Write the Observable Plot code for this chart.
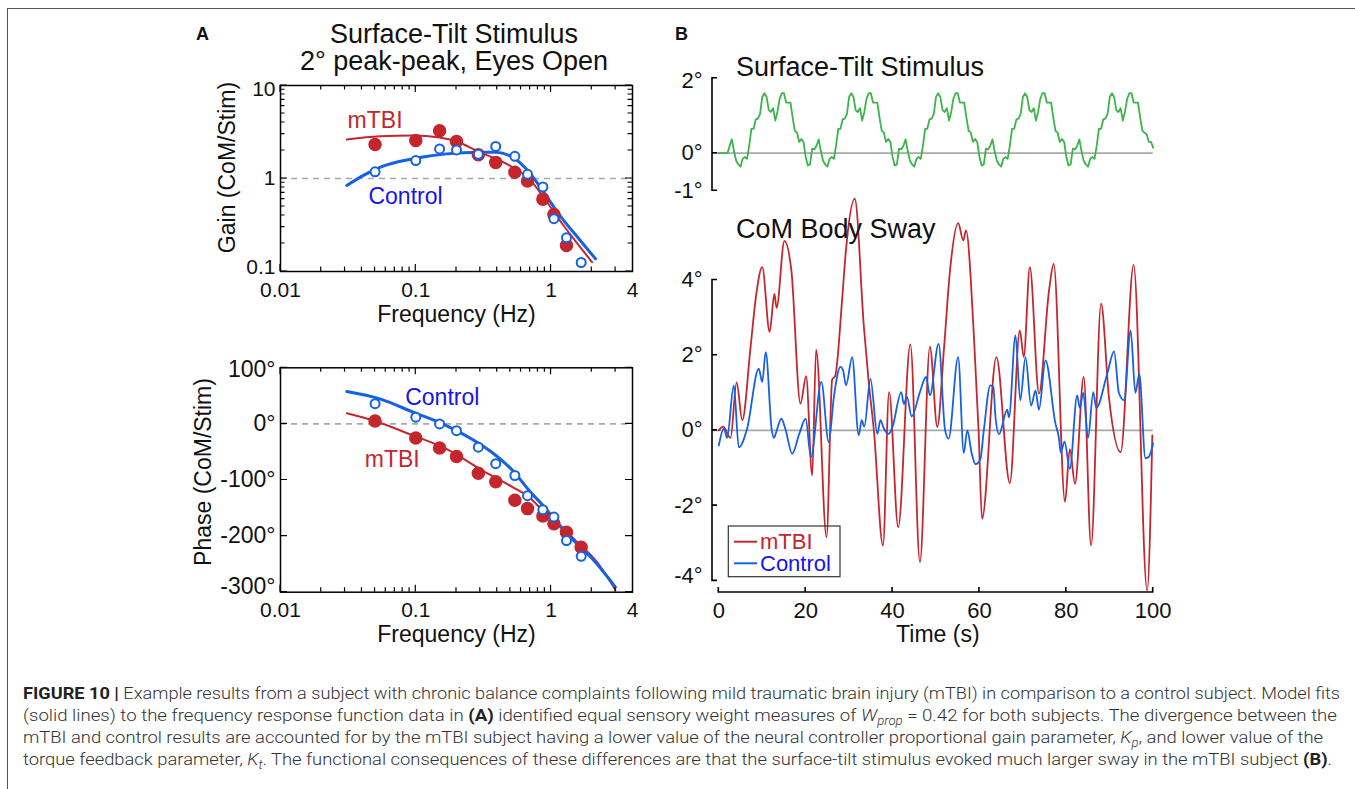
<!DOCTYPE html>
<html><head><meta charset="utf-8">
<script src="https://cdn.jsdelivr.net/npm/d3@7"></script>
<script src="https://cdn.jsdelivr.net/npm/@observablehq/plot@0.6"></script>
<style>
html,body{margin:0;padding:0;background:#fff;}
#root{position:relative;width:1355px;height:789px;overflow:hidden;background:#fff;}
#frameBorder{position:absolute;left:7px;top:8px;width:1400px;height:800px;border-top:1.5px solid #555;border-left:1.5px solid #555;}
</style></head>
<body><div id="root"><div id="frameBorder"></div></div>
<script>
// ---------------- DATA ----------------
// Panel A: frequency response function points
const freqs = [0.05, 0.1, 0.15, 0.2, 0.29, 0.39, 0.54, 0.67, 0.87, 1.05, 1.3, 1.67];
const gainMTBI = [2.32, 2.56, 3.26, 2.5, 1.8, 1.49, 1.17, 0.94, 0.6, 0.41, 0.19, null];
const gainControl = [1.18, 1.56, 2.08, 2.03, 1.82, 2.21, 1.73, 1.11, 0.81, 0.37, 0.23, 0.125];
const phaseMTBI = [5, -25, -43, -58, -88, -103, -136, -151, -164, -178, -193, -220];
const phaseControl = [36, 12, 0, -12, -41.5, -71, -92, -128, -153, -166, -208, -236];

// Panel A: model fit curves
const gainFitMTBIFreq = [0.0309, 0.0543, 0.0955, 0.150, 0.201, 0.296, 0.391, 0.520, 0.689, 0.914, 1.21, 1.61, 2.01];
const gainFitMTBIVal  = [2.62, 2.85, 2.90, 2.76, 2.50, 1.92, 1.63, 1.32, 0.99, 0.58, 0.326, 0.19, 0.126];
const gainFitCtrlFreq = [0.0309, 0.041, 0.0543, 0.0955, 0.168, 0.296, 0.391, 0.520, 0.689, 0.914, 1.21, 1.61, 2.13];
const gainFitCtrlVal  = [0.84, 1.08, 1.32, 1.63, 1.84, 1.92, 1.92, 1.69, 1.17, 0.66, 0.37, 0.224, 0.137];
const phaseFitMTBIFreq = [0.0309, 0.0485, 0.0955, 0.168, 0.296, 0.520, 0.689, 0.914, 1.21, 1.61, 2.13, 2.99];
const phaseFitMTBIVal  = [19, 6, -20.7, -44.4, -80, -112.8, -130.6, -160, -184, -214, -243, -296];
const phaseFitCtrlFreq = [0.0309, 0.0543, 0.0955, 0.168, 0.296, 0.391, 0.520, 0.689, 0.914, 1.21, 1.61, 2.13, 2.99];
const phaseFitCtrlVal  = [57.8, 44.7, 20.9, -2.9, -35.5, -56.3, -83, -118.7, -151, -187, -217, -246.5, -291];

// Axis ticks / labels
const freqTickLabels = [0.01, 0.1, 1, 4];
const freqMajor = [0.01, 0.1, 1];
const freqMinor = [0.02,0.03,0.04,0.05,0.06,0.07,0.08,0.09,0.2,0.3,0.4,0.5,0.6,0.7,0.8,0.9,2,3];
const gainTickLabels = [0.1, 1, 10];
const gainMinor = [0.2,0.3,0.4,0.5,0.6,0.7,0.8,0.9,2,3,4,5,6,7,8,9];
const phaseTicks = [100, 0, -100, -200, -300];
const stimTicks = [2, 0, -1];
const swayTicks = [4, 2, 0, -2, -4];
const timeTicks = [0, 20, 40, 60, 80, 100];

// Panel A in-plot labels
const gainLabels = [{f: 0.05, v: 4.2, t: "mTBI", g: "mTBI"}, {f: 0.084, v: 0.64, t: "Control", g: "Control"}];
const phaseLabels = [{f: 0.157, v: 47, t: "Control", g: "Control"}, {f: 0.067, v: -63.5, t: "mTBI", g: "mTBI"}];

// Panel B: surface-tilt stimulus (deg), sampled every 0.5 s from 0 to 100 s
const stimStep = 0.5;
const stimValues = [
0,0,0,0,0,
0.2,0.37,0.05,-0.2,-0.3,-0.36,-0.15,-0.1,-0.15,0.2,0.65,0.65,0.9,0.92,1.05,1.5,1.6,1.5,1.15,1.1,1.2,0.87,1.1,1.45,1.6,1.6,1.35,1.35,1.35,0.95,0.6,0.55,0.3,0.38,0.3,-0.1,-0.33,-0.3,0.12,0.1,
0.2,0.37,0.05,-0.2,-0.3,-0.36,-0.15,-0.1,-0.15,0.2,0.65,0.65,0.9,0.92,1.05,1.5,1.6,1.5,1.15,1.1,1.2,0.87,1.1,1.45,1.6,1.6,1.35,1.35,1.35,0.95,0.6,0.55,0.3,0.38,0.3,-0.1,-0.33,-0.3,0.12,0.1,
0.2,0.37,0.05,-0.2,-0.3,-0.36,-0.15,-0.1,-0.15,0.2,0.65,0.65,0.9,0.92,1.05,1.5,1.6,1.5,1.15,1.1,1.2,0.87,1.1,1.45,1.6,1.6,1.35,1.35,1.35,0.95,0.6,0.55,0.3,0.38,0.3,-0.1,-0.33,-0.3,0.12,0.1,
0.2,0.37,0.05,-0.2,-0.3,-0.36,-0.15,-0.1,-0.15,0.2,0.65,0.65,0.9,0.92,1.05,1.5,1.6,1.5,1.15,1.1,1.2,0.87,1.1,1.45,1.6,1.6,1.35,1.35,1.35,0.95,0.6,0.55,0.3,0.38,0.3,-0.1,-0.33,-0.3,0.12,0.1,
0.2,0.37,0.05,-0.2,-0.3,-0.36,-0.15,-0.1,-0.15,0.2,0.65,0.65,0.9,0.92,1.05,1.5,1.6,1.5,1.15,1.1,1.2,0.87,1.1,1.45,1.6,1.6,1.35,1.35,1.35,0.95,0.6,0.55,0.5,0.3,0.3,0.15
];

// Panel B: CoM body sway (deg) — turning points
const mtbiTime = [0,1.0,2.7,4.1,5.4,7.3,8.6,10.0,11.7,12.8,13.3,15.1,16.7,18.8,20.1,21.5,22.4,24.8,26.1,26.8,28.4,29.2,31.3,33.4,34.5,35.7,37.8,39.2,41.3,44.1,46.3,48.6,50.3,51.8,53.3,55.1,56.3,56.9,58.7,59.8,60.6,63.9,67.0,69.3,70.2,71.6,73.7,76.0,77.1,79.7,80.8,82.0,84.0,85.7,88.0,89.8,92.5,95.5,98.6,99.8];
const mtbiSway = [0,0.1,-0.2,1.28,0.27,2.2,3.6,4.34,2.62,3.63,3.26,5.04,4.26,0.71,1.44,-1.2,2.15,-2.84,1.35,1.45,3.5,4.7,6.16,2.75,1.3,0,-3.06,1.02,-2.57,2.29,-3.5,2.23,0.09,2.12,4.34,5.51,5.05,5.32,2.57,0,-2.35,1.95,-1.4,2.66,1.95,4.34,0.98,3.7,4.43,-1.9,-0.5,-1.42,1.42,-3.06,3.37,0.89,-0.58,4.4,-4.26,-0.13];
const controlTime = [0,1.2,1.9,3.45,4.6,6.5,9.2,10.0,10.8,12.2,12.7,13.2,14.4,15.3,16.9,18.5,20.0,21.2,23.6,25.3,26.5,28.0,28.6,29.3,30.7,32.2,32.9,33.5,34.9,36.5,37.2,38.0,39.1,40.0,42.0,42.6,43.3,44.4,46.3,47.7,48.6,50.6,52.1,52.9,55.1,56.4,57.2,58.2,59.1,60.2,61.0,62.5,63.2,63.7,64.5,66.4,66.8,68.3,69.4,70.6,71.9,72.9,73.7,75.2,77.5,78.3,78.7,79.6,80.8,82.5,83.1,83.9,85.0,86.2,86.9,89.4,91.0,92.1,93.3,94.8,95.9,96.8,98.2,99.0,100];
const controlSway = [-0.4,0.06,-0.2,1.2,-0.45,0.04,1.64,1.29,2.08,0,-0.2,-0.05,0.31,0.05,-0.62,-0.1,0.31,-0.71,1.29,-0.31,0.9,1.69,1.6,1.2,1.95,-0.13,0.27,0.1,1.37,-0.09,0.27,0.05,-0.09,0.1,1.02,0.7,0.9,0.37,1.02,1.42,0.93,2.3,0,-0.22,1.95,-0.6,0,-0.6,-0.9,-0.77,0,1.2,1.15,0.35,-0.1,0.55,0.35,2.53,0.8,1.95,0.66,1.06,0.55,1.86,0.18,-0.2,-0.58,-0.3,-1.02,0.93,0.6,1.0,-0.2,1.02,0.6,1.5,2.1,1.0,0.8,2.66,1.0,1.5,-0.74,-0.7,-0.35];

// ---------------- STYLE ----------------
const RED = "#c4262e", BLUE = "#1561e6", BLUETEXT = "#1414f0", GREEN = "#3cb44a";
const FONT = "'Liberation Sans', Arial, Helvetica, sans-serif";
const root = document.getElementById("root");
function place(el, left, top) { el.style.position = "absolute"; el.style.left = left + "px"; el.style.top = top + "px"; root.appendChild(el); }
const baseStyle = (fs) => ({fontFamily: FONT, fontSize: fs + "px", background: "transparent", overflow: "visible", color: "#111"});

// inward box ticks on all four sides (MATLAB style)
function boxTicks(xTicks, yTicks) {
  return (index, scales, values, dims) => {
    const L = dims.marginLeft, R = dims.width - dims.marginRight, T = dims.marginTop, B = dims.height - dims.marginBottom;
    let d = "";
    for (const [v, len] of xTicks) { const p = scales.x(v); d += `M${p},${B}v${-len}M${p},${T}v${len}`; }
    for (const [v, len] of yTicks) { const p = scales.y(v); d += `M${L},${p}h${len}M${R},${p}h${-len}`; }
    const path = document.createElementNS("http://www.w3.org/2000/svg", "path");
    path.setAttribute("d", d); path.setAttribute("stroke", "#000"); path.setAttribute("stroke-width", "1.2"); path.setAttribute("fill", "none");
    return path;
  };
}
// offset axes (box off) for panel B
function offsetAxes(yT, xT, len) {
  return (index, scales, values, dims) => {
    const L = dims.marginLeft, B = dims.height - dims.marginBottom;
    let d = `M${L + len},${scales.y(yT[0])}H${L}V${scales.y(yT[yT.length - 1])}H${L + len}`;
    for (const v of yT) d += `M${L},${scales.y(v)}h${len}`;
    if (xT) {
      d += `M${scales.x(xT[0])},${B - len}V${B}H${scales.x(xT[xT.length - 1])}V${B - len}`;
      for (const v of xT) d += `M${scales.x(v)},${B}v${-len}`;
    }
    const path = document.createElementNS("http://www.w3.org/2000/svg", "path");
    path.setAttribute("d", d); path.setAttribute("stroke", "#000"); path.setAttribute("stroke-width", "1.6"); path.setAttribute("fill", "none");
    return path;
  };
}

const rows = (xs, ys) => xs.map((x, i) => ({x, y: ys[i]})).filter(d => d.y != null);
const fmtNum = d => String(d);
const fmtDeg = d => `${d}°`;
const freqTickSpec = [...freqMajor.map(v => [v, 7]), ...freqMinor.map(v => [v, 4.5])];
const xLabels = (ticks, fmt, pad, fs) => Plot.text(ticks, {x: d => d, text: fmt, frameAnchor: "bottom", lineAnchor: "top", dy: pad, fontSize: fs, fill: "#111"});
// y tick labels; end labels nudged inward like the original axes
const yLabels = (ticks, fmt, pad, fs, nudge = {}) => ticks.map(v => Plot.text([v], {y: d => d, text: fmt, frameAnchor: "left", textAnchor: "end", lineAnchor: "middle", dx: -pad, dy: nudge[v] || 0, fontSize: fs, fill: "#111"}));
const xTitle = (s, dy, dx = 0) => Plot.text([s], {text: d => d, frameAnchor: "bottom", textAnchor: "middle", lineAnchor: "middle", dy, dx, fontSize: 23, fill: "#111"});
const yTitle = (s, dx, dy) => Plot.text([s], {text: d => d, frameAnchor: "left", textAnchor: "middle", lineAnchor: "middle", rotate: -90, dx, dy, fontSize: 23, fill: "#111"});

// ---------------- PANEL A: GAIN ----------------
const gainSvg = Plot.plot({
  width: 470, height: 260, marginLeft: 100, marginRight: 18, marginTop: 10, marginBottom: 64,
  style: baseStyle(21),
  x: {type: "log", domain: [0.01, 4], axis: null},
  y: {type: "log", domain: [0.1, 10], axis: null},
  marks: [
    Plot.ruleY([1], {stroke: "#a9a9a9", strokeWidth: 1.6, strokeDasharray: "6,5"}),
    Plot.line(rows(gainFitMTBIFreq, gainFitMTBIVal), {x: "x", y: "y", stroke: RED, strokeWidth: 2, curve: "monotone-x"}),
    Plot.line(rows(gainFitCtrlFreq, gainFitCtrlVal), {x: "x", y: "y", stroke: BLUE, strokeWidth: 3, curve: "monotone-x"}),
    Plot.dot(rows(freqs, gainMTBI), {x: "x", y: "y", r: 6, fill: RED, stroke: RED}),
    Plot.dot(rows(freqs, gainControl), {x: "x", y: "y", r: 4.5, fill: "white", stroke: BLUE, strokeWidth: 2}),
    Plot.frame({stroke: "#000", strokeWidth: 1.5}),
    boxTicks(freqTickSpec, [...gainTickLabels.map(v => [v, 7]), ...gainMinor.map(v => [v, 4.5])]),
    xLabels(freqTickLabels, fmtNum, 11, 21),
    ...yLabels(gainTickLabels, fmtNum, 5, 21, {10: 4, 0.1: -4}),
    xTitle("Frequency (Hz)", 43.3),
    yTitle("Gain (CoM/Stim)", -53, -11),
    Plot.text(gainLabels, {x: "f", y: "v", text: "t", fill: d => d.g === "mTBI" ? RED : BLUETEXT, fontSize: 23})
  ]
});
place(gainSvg, 180, 75);

// ---------------- PANEL A: PHASE ----------------
const phaseSvg = Plot.plot({
  width: 470, height: 290, marginLeft: 100, marginRight: 18, marginTop: 10.3, marginBottom: 55.3,
  style: baseStyle(22),
  x: {type: "log", domain: [0.01, 4], axis: null},
  y: {domain: [-300, 100], axis: null},
  marks: [
    Plot.ruleY([0], {stroke: "#a9a9a9", strokeWidth: 1.6, strokeDasharray: "6,5"}),
    Plot.line(rows(phaseFitMTBIFreq, phaseFitMTBIVal), {x: "x", y: "y", stroke: RED, strokeWidth: 2, curve: "monotone-x"}),
    Plot.line(rows(phaseFitCtrlFreq, phaseFitCtrlVal), {x: "x", y: "y", stroke: BLUE, strokeWidth: 3, curve: "monotone-x"}),
    Plot.dot(rows(freqs, phaseMTBI), {x: "x", y: "y", r: 6, fill: RED, stroke: RED}),
    Plot.dot(rows(freqs, phaseControl), {x: "x", y: "y", r: 4.5, fill: "white", stroke: BLUE, strokeWidth: 2}),
    Plot.frame({stroke: "#000", strokeWidth: 1.5}),
    boxTicks(freqTickSpec, phaseTicks.map(v => [v, 7])),
    xLabels(freqTickLabels, fmtNum, 9.5, 21),
    ...yLabels(phaseTicks, fmtDeg, 5, 23, {100: 2, "-300": -6}),
    xTitle("Frequency (Hz)", 42.6),
    yTitle("Phase (CoM/Stim)", -77, -8),
    Plot.text(phaseLabels, {x: "f", y: "v", text: "t", fill: d => d.g === "mTBI" ? RED : BLUETEXT, fontSize: 23})
  ]
});
place(phaseSvg, 180, 357);

// ---------------- PANEL B: BODY SWAY ----------------
const swaySvg = Plot.plot({
  width: 520, height: 470, marginLeft: 52, marginRight: 27.3, marginTop: 10, marginBottom: 58,
  style: baseStyle(22),
  x: {domain: [0, 100], insetLeft: 6.3, axis: null},
  y: {domain: [-4.31, 6.38], axis: null},
  marks: [
    Plot.ruleY([0], {stroke: "#a9a9a9", strokeWidth: 1.8}),
    Plot.line(rows(mtbiTime, mtbiSway), {x: "x", y: "y", stroke: RED, strokeWidth: 1.8, curve: "monotone-x"}),
    Plot.line(rows(controlTime, controlSway), {x: "x", y: "y", stroke: BLUE, strokeWidth: 1.8, curve: "monotone-x"}),
    offsetAxes(swayTicks, timeTicks, 5),
    ...yLabels(swayTicks, fmtDeg, 10, 22, {"-4": -5}),
    xLabels(timeTicks, fmtNum, 9.7, 22),
    xTitle("Time (s)", 42.3, 5)
  ]
});
place(swaySvg, 660, 180);

// ---------------- PANEL B: STIMULUS ----------------
const stimRows = stimValues.map((v, i) => ({x: i * stimStep, y: v}));
const stimSvg = Plot.plot({
  width: 520, height: 180, marginLeft: 52, marginRight: 27.3, marginTop: 57.7, marginBottom: 9.8,
  style: baseStyle(22),
  x: {domain: [0, 100], insetLeft: 6.3, axis: null},
  y: {domain: [-1, 2], axis: null},
  marks: [
    Plot.ruleY([0], {stroke: "#a9a9a9", strokeWidth: 1.8}),
    Plot.line(stimRows, {x: "x", y: "y", stroke: GREEN, strokeWidth: 1.8}),
    offsetAxes(stimTicks, null, 5),
    ...yLabels(stimTicks, fmtDeg, 10, 22, {2: 3})
  ]
});
place(stimSvg, 660, 20);

// ---------------- TITLES, LEGEND, CAPTION (overlay) ----------------
const NS = "http://www.w3.org/2000/svg";
const ov = document.createElementNS(NS, "svg");
ov.setAttribute("width", 1355); ov.setAttribute("height", 789);
ov.style.pointerEvents = "none";
ov.setAttribute("font-family", FONT);
function txt(str, x, y, attrs = {}) {
  const t = document.createElementNS(NS, "text");
  t.setAttribute("x", x); t.setAttribute("y", y);
  for (const k in attrs) t.setAttribute(k, attrs[k]);
  t.textContent = str; ov.appendChild(t); return t;
}
txt("A", 196, 40, {"font-weight": "bold", "font-size": 18, fill: "#111"});
txt("B", 675, 40, {"font-weight": "bold", "font-size": 18, fill: "#111"});
txt("Surface-Tilt Stimulus", 454, 43.3, {"font-size": 27, "text-anchor": "middle", fill: "#111"});
txt("2° peak-peak, Eyes Open", 454, 70, {"font-size": 27, "text-anchor": "middle", fill: "#111"});
txt("Surface-Tilt Stimulus", 736, 76, {"font-size": 27, fill: "#111"});
txt("CoM Body Sway", 736, 237.7, {"font-size": 27, fill: "#111"});

// legend
const lg = document.createElementNS(NS, "rect");
lg.setAttribute("x", 728.3); lg.setAttribute("y", 526); lg.setAttribute("width", 111.7); lg.setAttribute("height", 50.7);
lg.setAttribute("fill", "none"); lg.setAttribute("stroke", "#333"); lg.setAttribute("stroke-width", 1.2);
ov.appendChild(lg);
const legendItems = [{label: "mTBI", color: RED, tc: RED}, {label: "Control", color: BLUE, tc: BLUETEXT}];
legendItems.forEach((it, i) => {
  const y = 541.7 + i * 21.6;
  const ln = document.createElementNS(NS, "line");
  ln.setAttribute("x1", 734); ln.setAttribute("x2", 757); ln.setAttribute("y1", y); ln.setAttribute("y2", y);
  ln.setAttribute("stroke", it.color); ln.setAttribute("stroke-width", 2); ov.appendChild(ln);
  txt(it.label, 760, y + 7.5, {"font-size": 22, fill: it.tc});
});

// caption
const capFont = "'Roboto', 'Liberation Sans', sans-serif";
const captionLines = [
  {end: 1340, parts: [["FIGURE 10 |", "b"], [" Example results from a subject with chronic balance complaints following mild traumatic brain injury (mTBI) in comparison to a control subject. Model fits", ""]]},
  {end: 1337, parts: [["(solid lines) to the frequency response function data in ", ""], ["(A)", "b"], [" identified equal sensory weight measures of ", ""], ["W", "i"], ["prop", "sub"], [" = 0.42 for both subjects. The divergence between the", "after"]]},
  {end: 1323, parts: [["mTBI and control results are accounted for by the mTBI subject having a lower value of the neural controller proportional gain parameter, ", ""], ["K", "i"], ["p", "sub"], [", and lower value of the", "after"]]},
  {end: 1332, parts: [["torque feedback parameter, ", ""], ["K", "i"], ["t", "sub"], [". The functional consequences of these differences are that the surface-tilt stimulus evoked much larger sway in the mTBI subject ", "after"], ["(B)", "b"], [".", ""]]}
];
const capX = 23, capBase = 699, capLH = 22;
captionLines.forEach((line, li) => {
  const t = document.createElementNS(NS, "text");
  t.setAttribute("x", capX); t.setAttribute("y", capBase + li * capLH);
  t.setAttribute("font-family", capFont); t.setAttribute("font-size", 17); t.setAttribute("font-weight", 300); t.setAttribute("fill", "#333");
  t.setAttribute("textLength", line.end - capX); t.setAttribute("lengthAdjust", "spacingAndGlyphs");
  line.parts.forEach(([s, kind]) => {
    const sp = document.createElementNS(NS, "tspan");
    sp.textContent = s;
    if (kind === "b") { sp.setAttribute("font-weight", "bold"); sp.setAttribute("fill", "#222"); }
    if (kind === "i") sp.setAttribute("font-style", "italic");
    if (kind === "sub") { sp.setAttribute("font-style", "italic"); sp.setAttribute("font-size", 12); sp.setAttribute("dy", 4); }
    if (kind === "after") sp.setAttribute("dy", -4);
    t.appendChild(sp);
  });
  ov.appendChild(t);
});
place(ov, 0, 0);
</script>
</body></html>
